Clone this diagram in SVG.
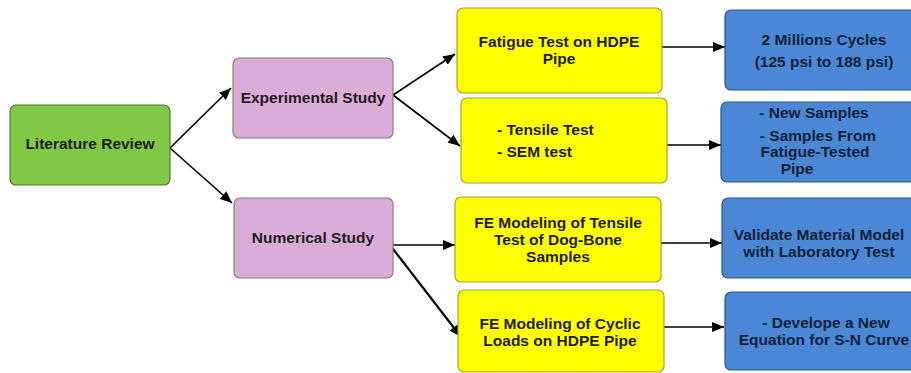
<svg xmlns="http://www.w3.org/2000/svg" width="911" height="373" viewBox="0 0 911 373">
<defs>
<marker id="ah" markerUnits="userSpaceOnUse" markerWidth="13" markerHeight="10" refX="12" refY="5" orient="auto">
<path d="M0,0 L12,5 L0,10 z" fill="#000"/>
</marker>
<style>
text{font-family:"Liberation Sans",Arial,sans-serif;font-weight:bold;font-size:15.5px;fill:#1e1e1e}
.c{text-anchor:middle}
.b text{fill:#14213a}
.green{fill:#80c846;stroke:#4f7a33;stroke-width:1.2}
.pink{fill:#dbadd6;stroke:#8b7a88;stroke-width:1.2}
.yellow{fill:#ffff00;stroke:#a8a03a;stroke-width:1.2}
.blue{fill:#4a88d6;stroke:#2c5486;stroke-width:1.2}
.conn line{stroke:#000;stroke-width:1.6;marker-end:url(#ah)}
</style>
</defs>
<rect width="911" height="373" fill="#fff"/>
<g class="conn" id="connectors">
<line x1="170" y1="148" x2="231" y2="88"/>
<line x1="170" y1="148" x2="232" y2="203"/>
<line x1="393" y1="95" x2="455" y2="54"/>
<line x1="393" y1="95" x2="460" y2="146"/>
<line x1="390" y1="245" x2="455" y2="245"/>
<line x1="390" y1="245" x2="461" y2="337" style="stroke-width:2.2"/>
<line x1="662" y1="47" x2="725" y2="47"/>
<line x1="667" y1="145" x2="721" y2="145"/>
<line x1="661" y1="243" x2="722" y2="243"/>
<line x1="664" y1="327" x2="724" y2="327"/>
</g>
<g id="literature-review">
<rect class="green" x="10" y="105" width="160" height="80" rx="6"/>
<text class="c" x="90" y="149">Literature Review</text>
</g>
<g id="experimental-study">
<rect class="pink" x="233" y="58" width="160" height="80" rx="6"/>
<text class="c" x="313" y="103">Experimental Study</text>
</g>
<g id="numerical-study">
<rect class="pink" x="234" y="198" width="159" height="80" rx="6"/>
<text class="c" x="313" y="243">Numerical Study</text>
</g>
<g id="fatigue-test">
<rect class="yellow" x="457" y="8" width="205" height="85" rx="6"/>
<text class="c" x="559" y="47">Fatigue Test on HDPE</text>
<text class="c" x="559" y="64">Pipe</text>
</g>
<g id="tensile-sem">
<rect class="yellow" x="461" y="98" width="206" height="85" rx="6"/>
<text x="497" y="135">- Tensile Test</text>
<text x="497" y="157">- SEM test</text>
</g>
<g id="fe-tensile">
<rect class="yellow" x="455" y="197" width="206" height="85" rx="6"/>
<text class="c" x="558" y="228">FE Modeling of Tensile</text>
<text class="c" x="558" y="245">Test of Dog-Bone</text>
<text class="c" x="558" y="262">Samples</text>
</g>
<g id="fe-cyclic">
<rect class="yellow" x="458" y="290" width="206" height="82" rx="6"/>
<text class="c" x="560" y="329">FE Modeling of Cyclic</text>
<text class="c" x="560" y="346">Loads on HDPE Pipe</text>
</g>
<g id="millions-cycles" class="b">
<rect class="blue" x="725" y="10" width="192" height="80" rx="6"/>
<text class="c" x="824" y="45">2 Millions Cycles</text>
<text class="c" x="824" y="67">(125 psi to 188 psi)</text>
</g>
<g id="samples" class="b">
<rect class="blue" x="721" y="102" width="196" height="80" rx="6"/>
<text class="c" x="814" y="118">- New Samples</text>
<text class="c" x="818" y="141">- Samples From</text>
<text class="c" x="815" y="157">Fatigue-Tested</text>
<text class="c" x="797" y="174">Pipe</text>
</g>
<g id="validate" class="b">
<rect class="blue" x="722" y="198" width="195" height="80" rx="6"/>
<text class="c" x="819" y="240">Validate Material Model</text>
<text class="c" x="819" y="257">with Laboratory Test</text>
</g>
<g id="sn-curve" class="b">
<rect class="blue" x="725" y="292" width="192" height="78" rx="6"/>
<text class="c" x="826" y="328">- Develope a New</text>
<text class="c" x="824" y="345">Equation for S-N Curve</text>
</g>
</svg>
